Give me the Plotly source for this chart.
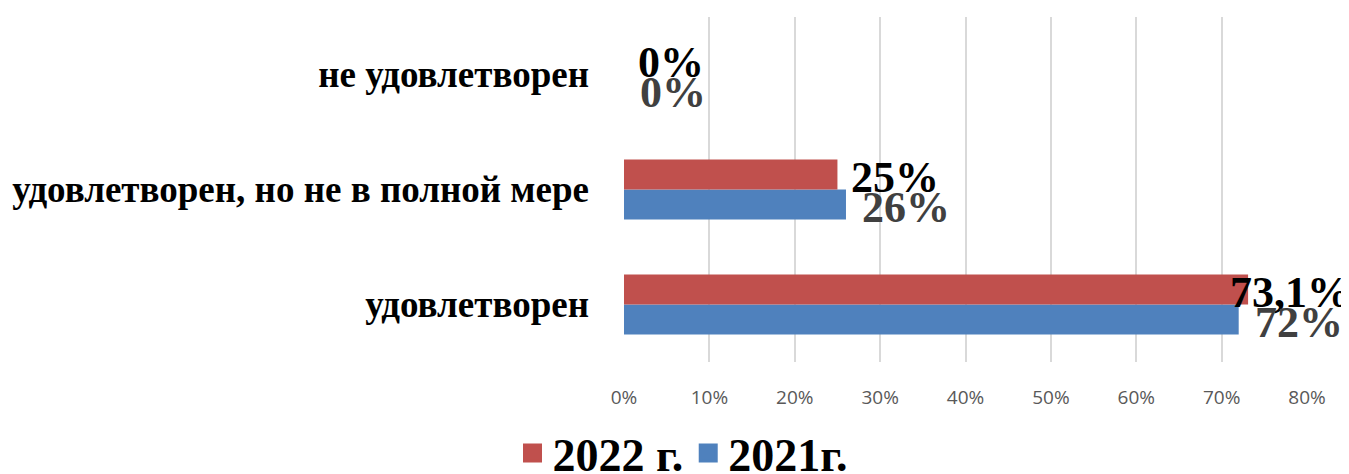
import plotly.graph_objects as go

categories = ["удовлетворен", "удовлетворен, но не в полной мере", "не удовлетворен"]
values_2021 = [72, 26, 0]
values_2022 = [73.1, 25, 0]
series_names = ["2021г.", "2022 г."]
x_ticks = [0, 10, 20, 30, 40, 50, 60, 70, 80]
x_tick_labels = ["0%", "10%", "20%", "30%", "40%", "50%", "60%", "70%", "80%"]

color_2021 = "#4F81BD"
color_2022 = "#C0504D"


def fmt(v):
    return f"{v:g}%".replace(".", ",")


serif = "Liberation Serif, Times New Roman, serif"

fig = go.Figure()
fig.add_trace(go.Bar(
    y=categories, x=values_2021, orientation="h", name=series_names[0],
    marker=dict(color=color_2021, line=dict(width=0)), showlegend=False,
))
fig.add_trace(go.Bar(
    y=categories, x=values_2022, orientation="h", name=series_names[1],
    marker=dict(color=color_2022, line=dict(width=0)), showlegend=False,
))

# legend entries with larger square swatches
for name, col in [(series_names[0], color_2021), (series_names[1], color_2022)]:
    fig.add_trace(go.Scatter(
        x=[None], y=[None], mode="markers", name=name,
        marker=dict(symbol="square", size=16, color=col, line=dict(color=col, width=3)),
    ))

# value labels
annotations = []
for cat, v in zip(categories, values_2022):
    shift = 12 if v < 73 else -20
    annotations.append(dict(
        x=v, y=cat, xref="x", yref="y", text=fmt(v), showarrow=False,
        xanchor="left", yanchor="middle", xshift=shift, yshift=12,
        font=dict(family=serif, size=44, color="#000000", weight="bold"),
    ))
for cat, v in zip(categories, values_2021):
    annotations.append(dict(
        x=v, y=cat, xref="x", yref="y", text=fmt(v), showarrow=False,
        xanchor="left", yanchor="middle", xshift=14, yshift=-18,
        font=dict(family=serif, size=44, color="#404040", weight="bold"),
    ))

fig.update_layout(
    width=1341, height=466,
    margin=dict(l=616, r=42, t=9, b=112),
    barmode="group", bargap=0.478, bargroupgap=0,
    plot_bgcolor="white", paper_bgcolor="white",
    showlegend=True,
    annotations=annotations,
    legend=dict(orientation="h", traceorder="reversed",
                xref="container", yref="container",
                x=0.503, xanchor="center", y=0.045, yanchor="middle",
                font=dict(family=serif, size=46, color="#000000", weight="bold"),
                itemsizing="trace", itemwidth=30),
    xaxis=dict(range=[0, 80], tickvals=x_ticks, ticktext=x_tick_labels,
               showgrid=True, gridcolor="#D9D9D9", gridwidth=1.5,
               zeroline=False, showline=False, ticks="", automargin=False,
               tickfont=dict(family="Open Sans, sans-serif", size=19, color="#595959"),
               ticklabelstandoff=22),
    yaxis=dict(showgrid=False, zeroline=False, showline=False, ticks="", automargin=False,
               tickfont=dict(family=serif, size=37, color="#000000", weight="bold"),
               ticklabelstandoff=34),
)

fig.write_html("out.html")
